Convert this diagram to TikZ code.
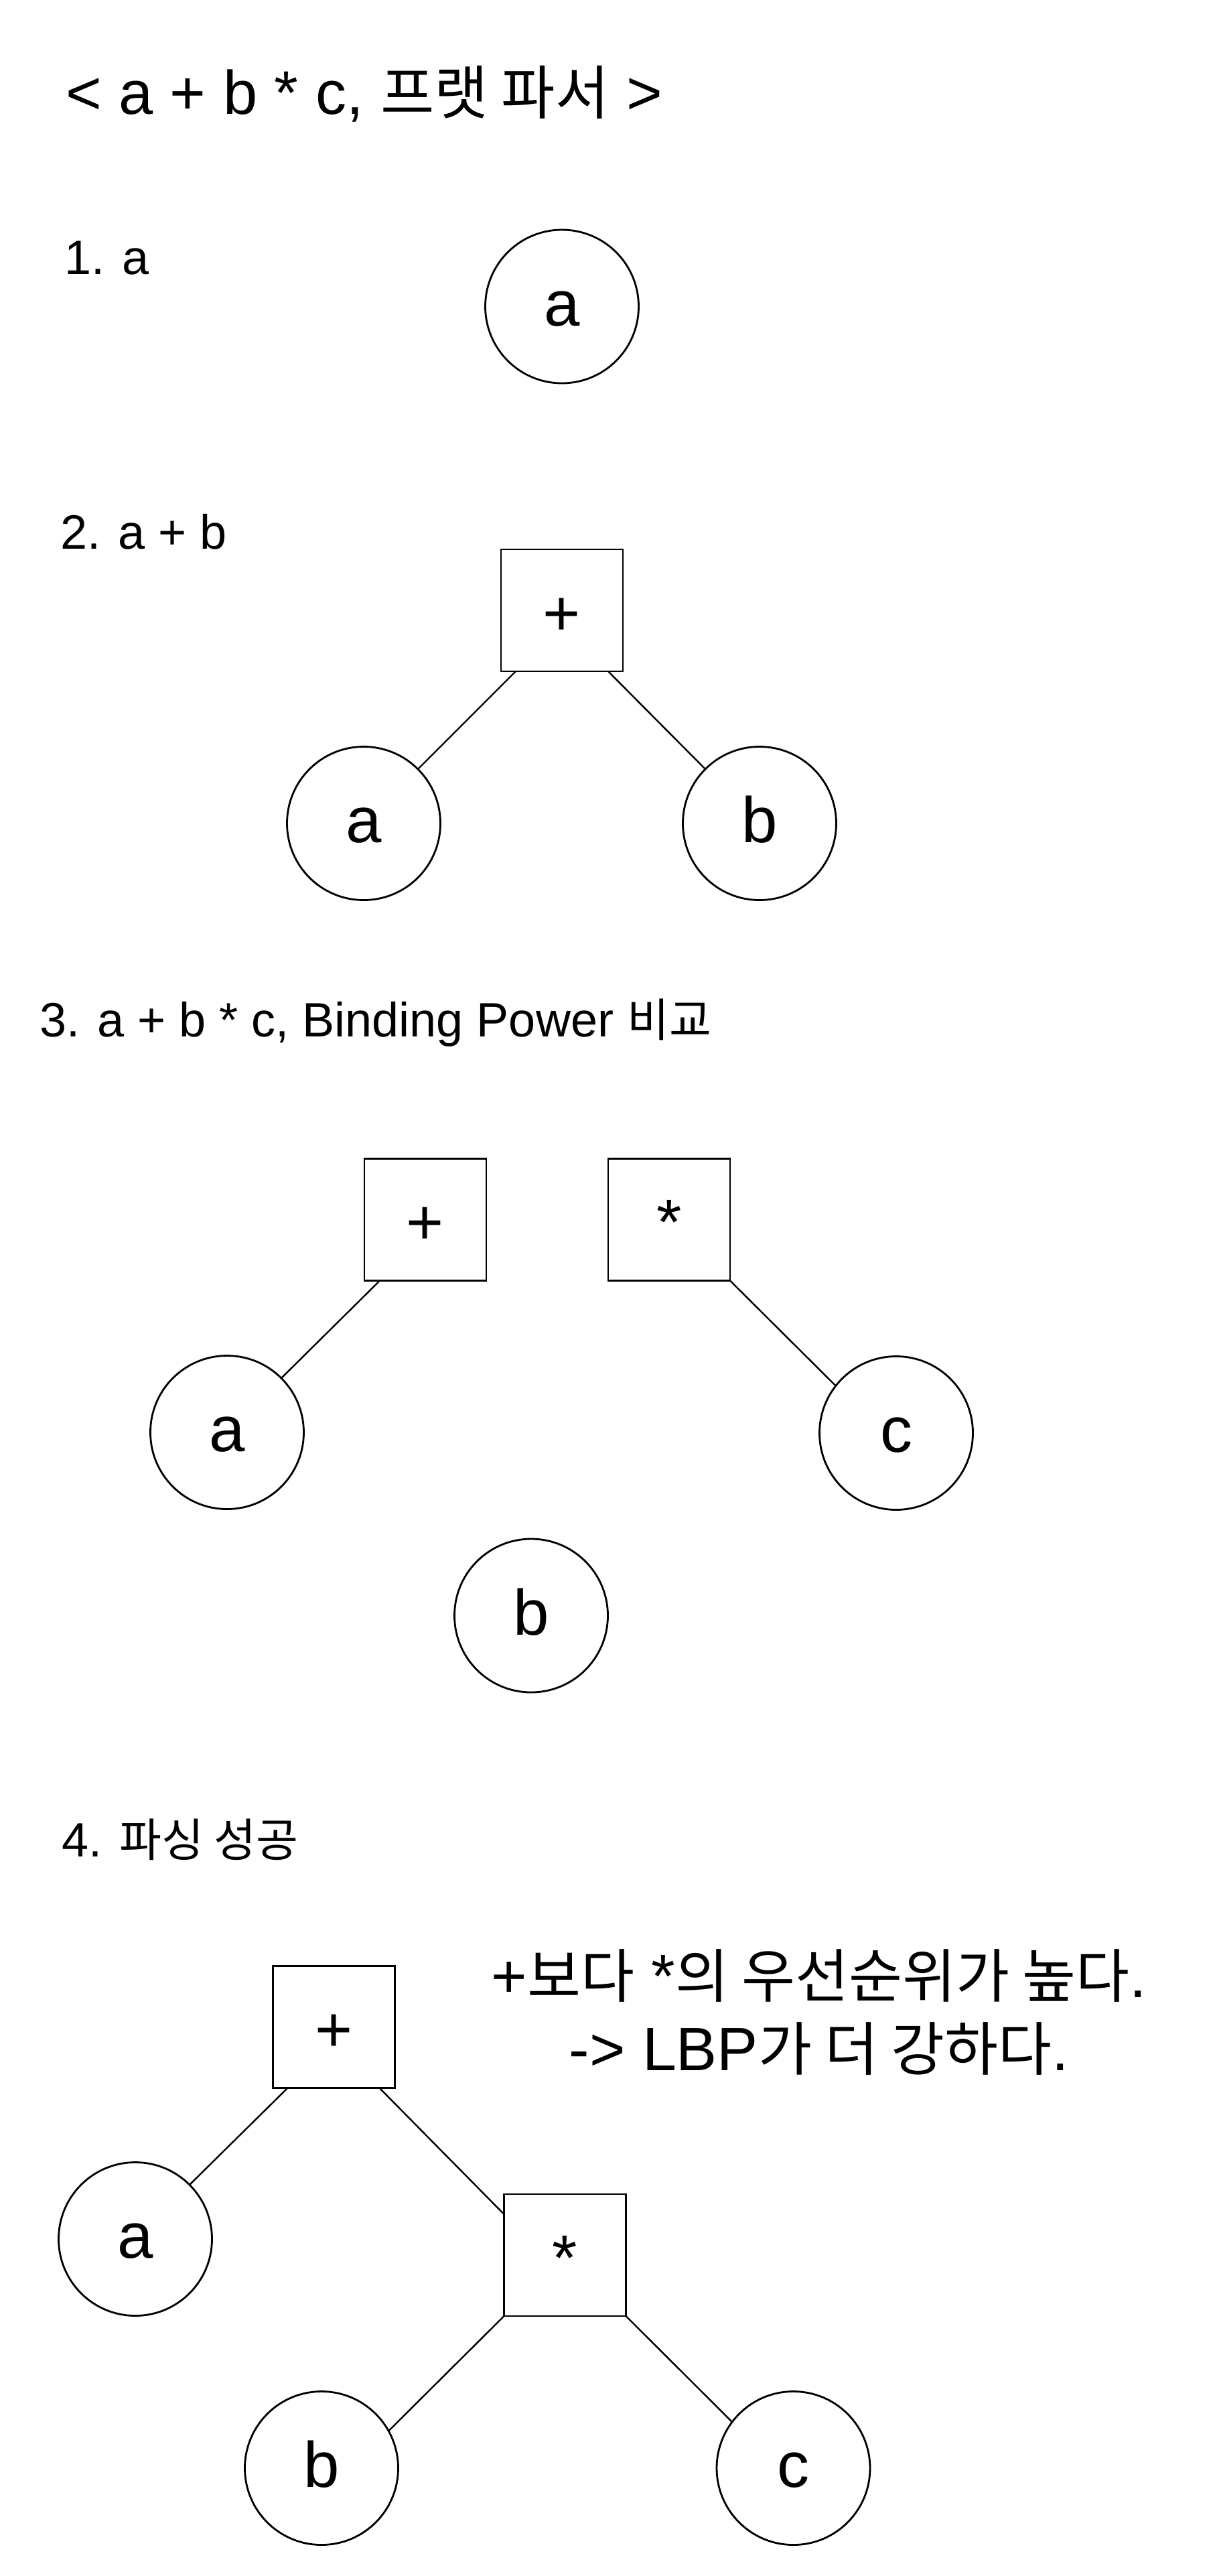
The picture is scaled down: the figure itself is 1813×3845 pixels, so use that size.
\documentclass[tikz,border=0pt]{standalone}
\usepackage{fontspec}
\setmainfont{Liberation Sans}
\newfontfamily\kr{Noto Sans CJK KR}[Scale=0.95]
\newcommand\K[1]{{\kr #1}}
\begin{document}
\begin{tikzpicture}[x=1pt,y=-1pt,
  every node/.style={inner sep=0pt, outer sep=0pt},
  leaf/.style={draw, circle, minimum size=229pt, line width=2.8pt,
    font=\fontsize{96}{96}\selectfont, text height=67pt, text depth=10pt},
  op/.style={draw, rectangle, minimum width=182pt, minimum height=182pt, line width=2.8pt,
    font=\fontsize{96}{96}\selectfont, text height=77pt, text depth=3pt},
  edge/.style={line width=2.4pt},
  titletext/.style={anchor=base west, font=\fontsize{92}{92}\selectfont},
  sectiontext/.style={anchor=base west, font=\fontsize{72}{72}\selectfont},
  notetext/.style={anchor=base, font=\fontsize{91.5}{91.5}\selectfont}]
\fill[white] (0,0) rectangle (1813,3845);
\useasboundingbox (0,0) rectangle (1813,3845);

% title
\node[titletext] (title) at (98,170) {< a + b * c, \K{프랫 파서} >};

% 1
\node[sectiontext] (s1) at (96,409) {1. a};
\node[leaf] (a1) at (839,457.5) {a};

% 2
\node[sectiontext] (s2) at (90,819) {2. a + b};
\node[op] (p2) at (839,911) {+};
\node[leaf] (a2) at (543,1229) {a};
\node[leaf] (b2) at (1134,1229) {b};
\draw[edge] ([xshift=22pt]p2.south west) -- (a2.45);
\draw[edge] ([xshift=-22pt]p2.south east) -- (b2.135);

% 3
\node[sectiontext] (s3) at (59,1547) {3. a + b * c, Binding Power \K{비교}};
\node[op] (p3) at (635,1820.5) {+};
\node[op] (m3) at (999,1820.5) {*};
\node[leaf] (a3) at (339,2138) {a};
\node[leaf] (c3) at (1338,2139) {c};
\node[leaf] (b3) at (793,2411.5) {b};
\draw[edge] ([xshift=23pt]p3.south west) -- (a3.45);
\draw[edge] (m3.south east) -- (c3.142);

% 4
\node[sectiontext] (s4) at (92,2771) {4. \K{파싱 성공}};
\node[op] (p4) at (498.5,3025.5) {+};
\node[leaf] (a4) at (202,3342) {a};
\node[op] (m4) at (843.5,3366) {*};
\node[leaf] (b4) at (480,3684) {b};
\node[leaf] (c4) at (1184.5,3684) {c};
\draw[edge] ([xshift=22pt]p4.south west) -- (a4.45);
\draw[edge] ([xshift=-23pt]p4.south east) -- ([yshift=-30pt]m4.north west);
\draw[edge] (m4.south west) -- (b4.29);
\draw[edge] (m4.south east) -- (c4.143);

\node[notetext] (n1) at (1223,2981) {+\K{보다} *\K{의 우선순위가 높다}.};
\node[notetext] (n2) at (1223,3090) {-> LBP\K{가 더 강하다}.};
\end{tikzpicture}
\end{document}
